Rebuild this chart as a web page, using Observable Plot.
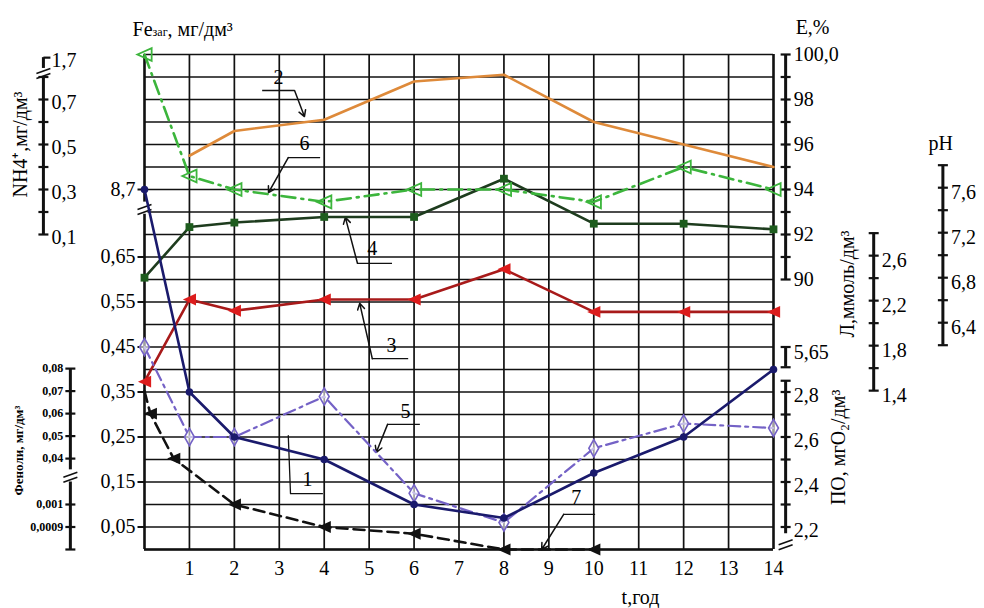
<!DOCTYPE html>
<html><head><meta charset="utf-8">
<script src="https://cdn.jsdelivr.net/npm/d3@7"></script>
<script src="https://cdn.jsdelivr.net/npm/@observablehq/plot@0.6"></script>
<style>
html,body{margin:0;padding:0;background:#fff;}
#chart{width:984px;height:608px;}
</style></head><body><div id="chart"></div>
<script>
// ---------------- data ----------------
const years = [0, 1, 2, 4, 6, 8, 10, 12, 14];
const feTotal = [8.7, 0.35, 0.25, 0.20, 0.10, 0.07, 0.17, 0.25, 0.40];      // 1: Fe заг, мг/дм3
const effYears = [1, 2, 4, 6, 8, 10, 12, 14];
const efficiency = [95.5, 96.6, 97.1, 98.8, 99.1, 97.0, 96.0, 95.0];      // 2: E, %
const alkalinity = [1.48, 2.21, 2.11, 2.21, 2.21, 2.48, 2.10, 2.10, 2.10]; // 3: Л, ммоль/дм3
const pHvals = [6.8, 7.25, 7.29, 7.34, 7.34, 7.68, 7.28, 7.28, 7.23];      // 4: pH
const permOx = [5.65, 2.60, 2.60, 2.78, 2.35, 2.22, 2.55, 2.66, 2.64];     // 5: ПО, мгО2/дм3
const ammonium = [1.7, 0.36, 0.30, 0.245, 0.30, 0.30, 0.245, 0.40, 0.30];  // 6: NH4+, мг/дм3
const phenolYears = [0, 0.13, 0.65, 2, 4, 6, 8, 10];
const phenols = [0.07, 0.06, 0.04, 0.001, 0.0009, 0.00087, 0.0008, 0.0008]; // 7: Феноли

// tick labels
const xTicks = [1,2,3,4,5,6,7,8,9,10,11,12,13,14];
const feTicks = [0.05, 0.15, 0.25, 0.35, 0.45, 0.55, 0.65];
const feBreak = 8.7;
const eTicks = [90, 91, 92, 93, 94, 95, 96, 97, 98, 99, 100];
const eLabels = [90, 92, 94, 96, 98, 100];
const nh4Ticks = [0.1, 0.2, 0.3, 0.4, 0.5, 0.6, 0.7, 0.8];
const nh4Labels = [0.1, 0.3, 0.5, 0.7];
const nh4Break = 1.7;
const lTicks = [1.4, 1.6, 1.8, 2.0, 2.2, 2.4, 2.6, 2.8];
const lLabels = [1.4, 1.8, 2.2, 2.6];
const phTicks = [6.2, 6.4, 6.6, 6.8, 7.0, 7.2, 7.4, 7.6, 7.8];
const phLabels = [6.4, 6.8, 7.2, 7.6];
const poTicks = [2.2, 2.3, 2.4, 2.5, 2.6, 2.7, 2.8];
const poLabels = [2.2, 2.4, 2.6, 2.8];
const poBreak = 5.65;
const phenHiTicks = [0.04, 0.05, 0.06, 0.07, 0.08];
const phenLoTicks = [0.0009, 0.001];

// ------------- mapping of each quantity onto the common grid (0..1.1) -------------
const toBase = {
  fe: v => v > 1 ? 0.8 : v,
  E: v => 0.6 + (v - 90) * 0.05,
  L: v => 0.353 + (v - 1.4) * 0.25,
  pH: v => 0.504 + (v - 6.4) * 0.25,
  PO: v => v > 4 ? 0.45 : 0.05 + (v - 2.2) * 0.5,
  NH4: v => v > 1 ? 1.1 : 0.65 + v * 0.5,
  phen: v => v >= 0.01 ? 0.202 + (v - 0.04) * 5 : 0.1 + (v - 0.001) * 500
};
// axis positions (in years units)
const AX = {nh4: -2.25, phen: -1.65, E: 14.27, L: 16.23, pH: 17.77};

const fmt = v => String(v).replace(".", ",");
const series = (ts, vs, f) => ts.map((t, i) => ({t, b: f(vs[i])}));
const s1 = series(years, feTotal, toBase.fe);
const s2 = series(effYears, efficiency, toBase.E);
const s3 = series(years, alkalinity, toBase.L);
const s4 = series(years, pHvals, toBase.pH);
const s5 = series(years, permOx, toBase.PO);
const s6 = series(years, ammonium, toBase.NH4);
const s7 = series(phenolYears, phenols, toBase.phen);

// symbols
const triLeft = {draw(ctx, size) { const s = Math.sqrt(size) * 0.62; ctx.moveTo(-s, 0); ctx.lineTo(s, -s * 0.9); ctx.lineTo(s, s * 0.9); ctx.closePath(); }};
const tickSym = {draw(ctx) { ctx.moveTo(-5, 0); ctx.lineTo(5, 0); }};
const tickLeft = {draw(ctx) { ctx.moveTo(-7, 0); ctx.lineTo(0, 0); }};
const capR = {draw(ctx) { ctx.moveTo(0, 0); ctx.lineTo(7, 0); }};
const brk = {draw(ctx) { ctx.moveTo(-7, 2); ctx.lineTo(7, -3); ctx.moveTo(-7, 7); ctx.lineTo(7, 2); }};

// colours
const navy = "#1a1a6c", orange = "#de8a3a", red = "#dc1c1c", redLine = "#a81a1a",
      dgreen = "#1e5c1e", dgreenLine = "#1e3c1e", purple = "#7462c6", lgreen = "#3cb53c";

// axes definitions
const axisLines = [
  {x: AX.nh4, b1: toBase.NH4(0.1), b2: toBase.NH4(0.8)},
  {x: AX.nh4, b1: 1.069, b2: 1.093},
  {x: AX.phen, b1: toBase.phen(0.035), b2: toBase.phen(0.08)},
  {x: AX.phen, b1: 0, b2: 0.15},
  {x: AX.E, b1: toBase.E(90), b2: toBase.E(100)},
  {x: AX.E, b1: 0.405, b2: toBase.PO(poBreak)},
  {x: AX.E, b1: 0.035, b2: 0.375},
  {x: AX.L, b1: toBase.L(1.4), b2: toBase.L(2.8)},
  {x: AX.pH, b1: toBase.pH(6.2), b2: toBase.pH(7.8)}
];
const ticks = [
  ...nh4Ticks.map(v => ({x: AX.nh4, b: toBase.NH4(v)})),
  ...phenHiTicks.map(v => ({x: AX.phen, b: toBase.phen(v)})),
  ...phenLoTicks.map(v => ({x: AX.phen, b: toBase.phen(v)})),
  {x: AX.phen, b: 0},
  ...eTicks.map(v => ({x: AX.E, b: toBase.E(v)})),
  ...poTicks.map(v => ({x: AX.E, b: toBase.PO(v)})),
  {x: AX.E, b: 0.405}, {x: AX.E, b: toBase.PO(poBreak)}, {x: AX.E, b: 0.375},
  ...lTicks.map(v => ({x: AX.L, b: toBase.L(v)})),
  ...phTicks.map(v => ({x: AX.pH, b: toBase.pH(v)}))
];
const caps = [{x: AX.nh4, b: 1.093}];
const breaks = [{x: AX.nh4, b: 1.062}, {x: AX.phen, b: 0.165}, {x: AX.E, b: 0.015}, {x: 0, b: 0.76}];

const labelsRight = [
  ...eLabels.map(v => ({x: AX.E, b: toBase.E(v), s: v === 100 ? "100,0" : String(v)})),
  {x: AX.E, b: toBase.PO(poBreak) - 0.012, s: fmt(poBreak)},
  ...poLabels.map(v => ({x: AX.E, b: toBase.PO(v) - 0.008, s: fmt(v)})),
  ...lLabels.map(v => ({x: AX.L, b: toBase.L(v) - 0.012, s: fmt(v)})),
  ...phLabels.map(v => ({x: AX.pH, b: toBase.pH(v) - 0.01, s: fmt(v)})),
  ...nh4Labels.map(v => ({x: AX.nh4, b: toBase.NH4(v) - 0.006, s: fmt(v)})),
  {x: AX.nh4, b: 1.086, s: fmt(nh4Break)}
];
const phenLabels = [...phenHiTicks, ...phenLoTicks].map(v => ({x: AX.phen, b: toBase.phen(v), s: fmt(v)}));

// annotation numbers with leader lines (years, grid units)
const notes = [
  {n: "2", t: 2.98, b: 1.049, s1: 2.63, s2: 3.34, sb: 1.02, ax: 3.34, ay: 1.02, tx: 3.56, ty: 0.962},
  {n: "6", t: 3.56, b: 0.902, s1: 3.2, s2: 3.92, sb: 0.871, ax: 3.2, ay: 0.871, tx: 2.76, ty: 0.793},
  {n: "4", t: 5.07, b: 0.669, s1: 4.74, s2: 5.52, sb: 0.636, ax: 4.74, ay: 0.636, tx: 4.47, ty: 0.738},
  {n: "3", t: 5.5, b: 0.453, s1: 5.07, s2: 5.88, sb: 0.424, ax: 5.07, ay: 0.424, tx: 4.79, ty: 0.547},
  {n: "5", t: 5.81, b: 0.307, s1: 5.41, s2: 6.14, sb: 0.278, ax: 5.41, ay: 0.278, tx: 5.16, ty: 0.216},
  {n: "7", t: 9.61, b: 0.116, s1: 9.33, s2: 10.04, sb: 0.078, ax: 9.33, ay: 0.078, tx: 8.84, ty: 0.0},
  {n: "1", t: 3.63, b: 0.156, s1: 3.25, s2: 3.96, sb: 0.124, ax: 3.25, ay: 0.124, tx: 3.2, ty: 0.253}
];

const grid = d3.range(0, 23).map(i => i * 0.05);
const F = "Liberation Serif";

const plot = Plot.plot({
  width: 984, height: 608,
  marginLeft: 144, marginRight: 211, marginTop: 54, marginBottom: 59,
  x: {domain: [0, 14], axis: null},
  y: {domain: [0, 1.1], axis: null},
  style: {fontFamily: F, fontSize: "19px", background: "white", overflow: "visible", color: "black"},
  marks: [
    // grid
    Plot.ruleY(grid, {y: d => d, x1: () => 0, x2: () => 14, stroke: "#111", strokeWidth: 1.7}),
    Plot.ruleX(d3.range(0, 15), {x: d => d, y1: () => 0, y2: () => 1.1, stroke: "#111", strokeWidth: 1.7}),
    Plot.ruleX([0, 14], {x: d => d, y1: () => 0, y2: () => 1.1, stroke: "#111", strokeWidth: 2.4}),
    Plot.ruleY([0], {y: d => d, x1: () => 0, x2: () => 14, stroke: "#111", strokeWidth: 2.4}),
    // frame break near 8,7
    Plot.ruleX([0], {x: d => d, y1: () => 0.745, y2: () => 0.772, stroke: "white", strokeWidth: 6}),
    // left Fe ticks and labels
    Plot.dot([...feTicks, 0.8], {x: () => 0, y: d => d, symbol: tickLeft, stroke: "#111", strokeWidth: 2}),
    Plot.text(feTicks, {x: () => 0, y: d => d, text: d => fmt(d), dx: -9, textAnchor: "end", fontSize: 20}),
    Plot.text([feBreak], {x: () => 0, y: d => toBase.fe(d), text: d => fmt(d), dx: -9, textAnchor: "end", fontSize: 20}),
    // x tick labels
    Plot.text(xTicks, {x: d => d, y: () => 0, text: d => String(d), dy: 19, fontSize: 20}),
    // extra axes
    Plot.ruleX(axisLines, {x: "x", y1: "b1", y2: "b2", stroke: "#111", strokeWidth: 3}),
    Plot.dot(ticks, {x: "x", y: "b", symbol: tickSym, stroke: "#111", strokeWidth: 2.2}),
    Plot.dot(caps, {x: "x", y: "b", symbol: capR, stroke: "#111", strokeWidth: 2.2}),
    Plot.dot(breaks, {x: "x", y: "b", symbol: brk, stroke: "#111", strokeWidth: 1.6}),
    Plot.text(labelsRight, {x: "x", y: "b", text: "s", dx: 8, textAnchor: "start", fontSize: 20}),
    Plot.text(phenLabels, {x: "x", y: "b", text: "s", dx: -7, textAnchor: "end", fontSize: 12, fontWeight: "bold"}),
    // axis titles
    Plot.text(["Feзаг, мг/дм³"], {x: () => 0.85, y: () => 1.155, text: d => d, fontSize: 20}),
    Plot.text(["E,%"], {x: () => 14.87, y: () => 1.16, text: d => d, fontSize: 20}),
    Plot.text(["pH"], {x: () => 17.72, y: () => 0.902, text: d => d, fontSize: 20}),
    Plot.text(["t,год"], {x: () => 11.04, y: () => -0.107, text: d => d, fontSize: 20}),
    Plot.text(["NH4⁺,мг/дм³"], {x: () => -2.75, y: () => 0.9, text: d => d, rotate: -90, fontSize: 20}),
    Plot.text(["Феноли, мг/дм³"], {x: () => -2.8, y: () => 0.22, text: d => d, rotate: -90, fontSize: 13, fontWeight: "bold"}),
    Plot.text(["Л,ммоль/дм³"], {x: () => 15.65, y: () => 0.59, text: d => d, rotate: -90, fontSize: 20}),
    Plot.text(["ПО, мгО₂/дм³"], {x: () => 15.45, y: () => 0.227, text: d => d, rotate: -90, fontSize: 20}),
    // annotations
    Plot.ruleY(notes.filter(d => d.n !== "1"), {y: "sb", x1: "s1", x2: "s2", stroke: "#111", strokeWidth: 1.3}),
    Plot.arrow(notes.filter(d => d.n !== "1"), {x1: "ax", y1: "ay", x2: "tx", y2: "ty", stroke: "#111", strokeWidth: 1.5, headLength: 7}),
    Plot.line([notes[6]].flatMap(d => [{x: d.tx, y: d.ty}, {x: d.ax, y: d.ay}, {x: d.s2, y: d.sb}]), {x: "x", y: "y", stroke: "#111", strokeWidth: 1.3}),
    Plot.text(notes, {x: "t", y: "b", text: "n", fontSize: 20}),
    // curves
    Plot.line(s2, {x: "t", y: "b", stroke: orange, strokeWidth: 2.6}),
    Plot.line(s4, {x: "t", y: "b", stroke: dgreenLine, strokeWidth: 2.6}),
    Plot.dot(s4, {x: "t", y: "b", symbol: "square", r: 4.4, fill: dgreen}),
    Plot.line(s6, {x: "t", y: "b", stroke: lgreen, strokeWidth: 2.6, strokeDasharray: "14,6,2,6"}),
    Plot.dot(s6, {x: "t", y: "b", symbol: triLeft, r: 6.5, fill: "none", stroke: lgreen, strokeWidth: 1.8}),
    Plot.line(s3, {x: "t", y: "b", stroke: redLine, strokeWidth: 2.6}),
    Plot.dot(s3, {x: "t", y: "b", symbol: triLeft, r: 6, fill: red}),
    Plot.line(s5, {x: "t", y: "b", stroke: purple, strokeWidth: 2.2, strokeDasharray: "12,5,3,5"}),
    Plot.dot(s5, {x: "t", y: "b", symbol: "diamond", r: 5.2, fill: "white", fillOpacity: 0.6, stroke: purple, strokeWidth: 1.6}),
    Plot.line(s1, {x: "t", y: "b", stroke: navy, strokeWidth: 2.6}),
    Plot.dot(s1, {x: "t", y: "b", r: 3.8, fill: navy}),
    Plot.line(s7, {x: "t", y: "b", stroke: "#111", strokeWidth: 2.6, strokeDasharray: "11,6"}),
    Plot.dot(s7.slice(1), {x: "t", y: "b", symbol: triLeft, r: 6, fill: "#111"})
  ]
});

// Fe title with small subscript
d3.select(plot).selectAll("text").filter(function() { return this.textContent === "Feзаг, мг/дм³"; })
  .each(function() {
    const el = d3.select(this);
    el.text(null);
    el.append("tspan").text("Fe");
    el.append("tspan").attr("font-size", 12).text("заг");
    el.append("tspan").text(", мг/дм³");
  });
document.getElementById("chart").appendChild(plot);
</script>
</body></html>
